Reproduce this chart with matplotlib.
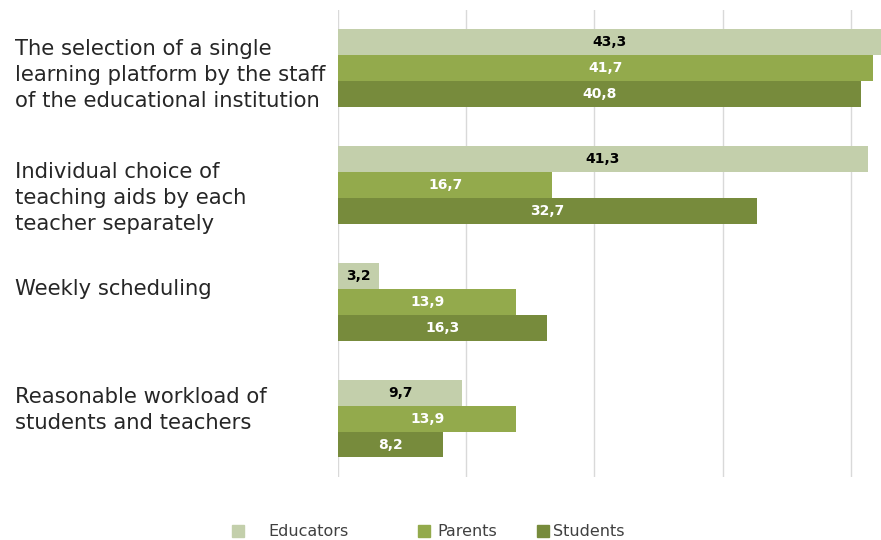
import numpy as np
import matplotlib.pyplot as plt
from matplotlib.patches import Rectangle
from matplotlib.transforms import blended_transform_factory

plt.rcParams['font.family'] = ['DejaVu Sans']

categories = [
    'The selection of a single\nlearning platform by the staff\nof the educational institution',
    'Individual choice of\nteaching aids by each\nteacher separately',
    'Weekly scheduling',
    'Reasonable workload of\nstudents and teachers',
]
series_names = ['Educators', 'Parents', 'Students']
educators = [43.3, 41.3, 3.2, 9.7]
parents = [41.7, 16.7, 13.9, 13.9]
students = [40.8, 32.7, 16.3, 8.2]

colors = ['#C3CFAB', '#93AA4C', '#778B3C']
label_colors = ['black', 'white', 'white']

fig = plt.figure(figsize=(8.81, 5.40), dpi=100)
ax = fig.add_axes([0.3837, 0.1167, 0.6163, 0.8648])

y = np.arange(len(categories))
h = 0.222
for k, (vals, name) in enumerate(zip([educators, parents, students], series_names)):
    bars = ax.barh(y + (k - 1) * h, vals, height=h, color=colors[k], label=name,
                   edgecolor='none', zorder=2)
    ax.bar_label(bars, labels=[f'{v:.1f}'.replace('.', ',') for v in vals],
                 label_type='center', color=label_colors[k], fontsize=10,
                 fontweight='bold')

ax.set_xlim(0, 42.35)
ax.set_ylim(3.5, -0.5)
ax.set_xticks(np.arange(0, 50, 10))
ax.grid(axis='x', color='#D9D9D9', linewidth=1, zorder=0)
ax.tick_params(length=0, labelbottom=False, labelleft=False)
for s in ax.spines.values():
    s.set_visible(False)

# category names sit left of the plot, left aligned
label_shift = [0.06, 0.11, -0.11, -0.07]
trans = blended_transform_factory(fig.transFigure, ax.transData)
for i, txt in enumerate(categories):
    ax.text(15 / 881, i + label_shift[i], txt, transform=trans, ha='left', va='center',
            fontsize=15.2, color='#262626', linespacing=1.38)

# legend along the bottom
legend_items = [(232, 268), (418, 437), (537, 553)]
for (sx, tx), name, c in zip(legend_items, series_names, colors):
    fig.patches.append(Rectangle((sx / 881, 1 - 537 / 540), 12 / 881, 12 / 540,
                                 transform=fig.transFigure, color=c))
    fig.text(tx / 881, 1 - 531 / 540, name, ha='left', va='center',
             fontsize=11.5, color='#404040')

fig.savefig('out.png', dpi=100)
